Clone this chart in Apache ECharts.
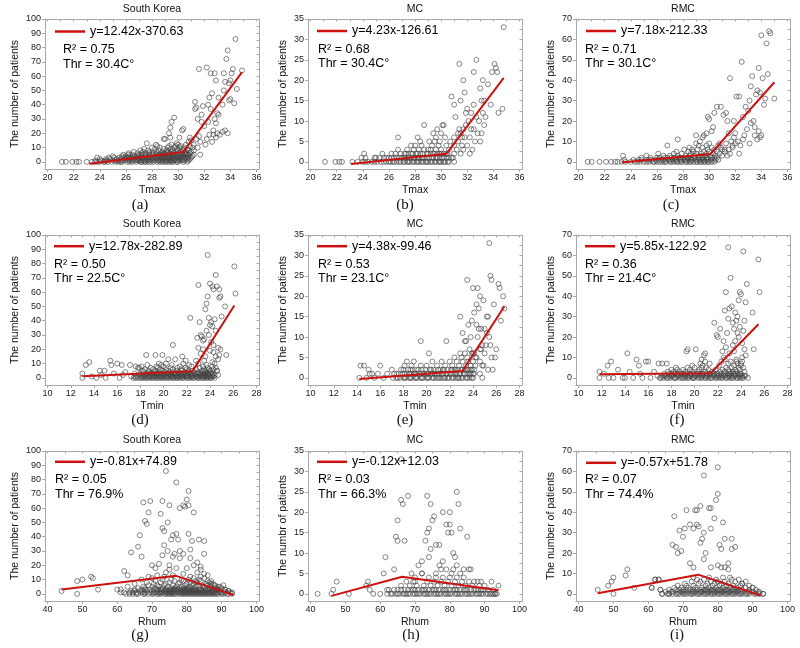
<!DOCTYPE html>
<html><head><meta charset="utf-8">
<script src="https://cdn.jsdelivr.net/npm/echarts@6/dist/echarts.min.js"></script>
<style>html,body{margin:0;padding:0;background:#fff}#c{width:800px;height:648px}</style>
</head><body><div id="c"></div>
<script>
// ---------- labels / text ----------
const panelTitles = ['South Korea','MC','RMC','South Korea','MC','RMC','South Korea','MC','RMC'];
const panelLetters = ['(a)','(b)','(c)','(d)','(e)','(f)','(g)','(h)','(i)'];
const xNames = ['Tmax','Tmax','Tmax','Tmin','Tmin','Tmin','Rhum','Rhum','Rhum'];
const yNames = ['The number of patients','The number of patients','The number of patients',
  'The number of patients','The number of patients','The number of patients',
  'The number of patients','The numbr of patients','The number of patients'];
const equations = ['y=12.42x-370.63','y=4.23x-126.61','y=7.18x-212.33',
  'y=12.78x-282.89','y=4.38x-99.46','y=5.85x-122.92',
  'y=-0.81x+74.89','y=-0.12x+12.03','y=-0.57x+51.78'];
const r2Values = ['0.75','0.68','0.71','0.50','0.53','0.36','0.05','0.03','0.07'];
const thrValues = ['30.4C°','30.4C°','30.1C°','22.5C°','23.1C°','21.4C°','76.9%','66.3%','74.4%'];

// ---------- tick labels ----------
const tmaxTicks = [20,22,24,26,28,30,32,34,36];
const tminTicks = [10,12,14,16,18,20,22,24,26,28];
const rhumTicks = [40,50,60,70,80,90,100];
const skTicks = [0,10,20,30,40,50,60,70,80,90,100];
const mcTicks = [0,5,10,15,20,25,30,35];
const rmcTicks = [0,10,20,30,40,50,60,70];
const tmaxMinor = [20,21,22,23,24,25,26,27,28,29,30,31,32,33,34,35,36];
const tminMinor = [10,11,12,13,14,15,16,17,18,19,20,21,22,23,24,25,26,27,28];
const rhumMinor = [40,45,50,55,60,65,70,75,80,85,90,95,100];
const skMinor = [0,5,10,15,20,25,30,35,40,45,50,55,60,65,70,75,80,85,90,95,100];
const mcMinor = [0,2.5,5,7.5,10,12.5,15,17.5,20,22.5,25,27.5,30,32.5,35];
const rmcMinor = [0,5,10,15,20,25,30,35,40,45,50,55,60,65,70];

// ---------- piecewise fit lines ----------
const fitA = [[23.2,-1.4],[30.4,6.94],[34.9,62.8]];
const fitB = [[23.1,-0.5],[30.4,1.98],[34.8,20.6]];
const fitC = [[23.3,-0.3],[30.1,3.8],[35.0,39.0]];
const fitD = [[13.0,1.2],[22.5,4.7],[26.1,50.7]];
const fitE = [[14.2,-0.3],[23.1,1.7],[26.7,17.5]];
const fitF = [[11.8,1.8],[21.4,2.3],[25.5,26.3]];
const fitG = [[44.0,3.0],[76.9,12.6],[93.5,-0.8]];
const fitH = [[46.0,-0.5],[66.3,4.2],[94.0,0.9]];
const fitI = [[45.5,0.3],[74.4,9.4],[92.3,-0.8]];

function row(y, xs){ return xs.map(x => [x, y]); }

// ---------- scatter data ----------
const ptsA = [
 [21.1,0],[21.4,0],[21.9,0],[22.2,0],[22.4,0],[23.0,0],[23.4,0],
 ...row(0,[23.6,23.8,24.3,24.4,24.9,25.2,25.6,25.7,26.1,26.5,26.8,27.1,27.4,27.5,27.9,28.1,28.4,28.8,29.1,29.3,29.6,30.0,30.7]),
 ...row(1,[23.7,24.1,24.6,25.0,25.4,25.8,26.0,26.3,26.7,26.9,27.2,27.6,27.8,28.2,28.5,28.6,29.0,29.2,29.5,29.9,30.3,30.8]),
 ...row(2,[24.0,24.5,25.3,25.9,26.2,26.4,26.8,27.0,27.3,27.7,28.0,28.3,28.6,28.9,29.2,29.4,29.7,30.1,30.5,30.9]),
 ...row(3,[23.8,24.7,25.5,26.1,26.6,26.9,27.4,27.6,28.1,28.4,28.7,29.0,29.3,29.6,29.9,30.2,30.6,31.0]),
 ...row(4,[25.0,25.7,26.3,26.8,27.2,27.5,27.9,28.2,28.5,28.8,29.1,29.5,29.8,30.0,30.4,30.7,31.1]),
 ...row(5,[25.8,26.5,27.0,27.3,27.8,28.0,28.6,28.9,29.3,29.6,29.9,30.3,30.6,31.2]),
 ...row(6,[26.2,26.9,27.5,28.1,28.4,28.7,29.0,29.4,29.7,30.1,30.5,30.9]),
 ...row(7,[26.6,27.3,27.8,28.3,28.8,29.2,29.5,29.8,30.2,30.6,31.0]),
 ...row(8,[27.1,27.7,28.5,29.1,29.6,30.0,30.4,30.8]),
 ...row(9,[27.4,28.2,28.9,29.4,29.9,30.3,30.7]),
 ...row(10,[28.0,28.6,29.2,29.7,30.1,30.5,31.1]),
 ...row(11,[28.4,29.3,29.8,30.2,30.9]),
 ...row(12,[28.3,29.5,30.0,30.6]),
 [27.6,13],[28.9,16],[29.0,16],[29.3,20],[29.4,24],[29.5,28],[29.7,31],[29.4,17],[30.3,22],[30.4,23],
 [30.1,17],[29.9,13],[30.8,14],[30.6,5],[31.0,15],[31.2,12],[31.3,42],[31.4,38],[31.3,37],[31.5,30],
 [31.6,18],[31.7,5],[31.6,65],[31.8,28],[31.9,39],[31.8,33],[31.5,10],[31.4,16],[31.7,14],[31.2,8],
 [30.9,17],[32.2,66],[32.5,62],[32.6,48],[32.8,62],[32.9,57],[32.4,45],[32.3,40],[32.5,37],[32.8,30],
 [33.0,20],[32.3,28],[32.0,25],[32.7,19],[32.9,17],[32.2,16],[32.1,12],[32.6,14],[33.0,34],[33.1,33],
 [32.7,22],[32.9,27],[33.1,45],[32.4,19],[33.5,62],[33.6,56],[33.8,78],[33.7,72],[33.5,50],[33.9,55],
 [34.2,65],[34.1,62],[34.0,57],[34.4,86],[34.5,51],[34.9,64],[34.3,41],[33.9,43],[33.6,22],[33.8,20],
 [33.4,21],[33.2,19],[34.0,44],[33.4,40]
];
const bandA2 = [
 ...row(0,[24.0,24.6,25.4,26.3,27.2,27.7,28.6,29.0,29.5,29.9,30.4]),
 ...row(1,[24.4,25.2,25.6,26.5,27.0,27.4,28.0,28.8,29.4,29.7,30.1,30.5]),
 ...row(2,[24.8,25.6,26.0,26.6,27.2,27.5,27.9,28.4,28.8,29.1,29.6,30.0,30.3,30.7]),
 ...row(3,[25.1,25.8,26.4,27.1,27.8,28.3,28.9,29.5,30.0,30.4,30.8]),
 ...row(4,[26.0,26.6,27.0,27.7,28.4,29.0,29.3,29.7,30.2]),
 ...row(5,[26.2,27.5,28.3,28.8,29.5,30.1,30.8]),
 ...row(6,[27.2,27.8,28.9,29.2,30.3,30.7])
];
const ptsB = [
 [21.1,0],[21.9,0],[22.2,0],[22.4,0],[23.2,0],
 ...row(0,[23.6,24.0,24.4,24.7,25.1,25.4,25.8,26.1,26.3,26.6,26.9,27.1,27.4,27.6,27.9,28.1,28.3,28.6,28.8,29.0,29.3,29.5,29.8,30.0,30.3,30.6,31.0]),
 ...row(1,[23.9,24.2,24.9,25.3,25.6,26.0,26.4,26.8,27.0,27.3,27.7,28.0,28.2,28.5,28.7,29.1,29.4,29.7,30.1,30.4,30.8]),
 ...row(2,[24.1,26.2,26.5,27.2,27.5,27.8,28.1,28.4,28.9,29.2,29.5,29.9,30.2,30.5,31.0]),
 ...row(3,[26.7,27.4,27.9,28.3,28.7,29.0,29.2,29.6,30.0,30.6,31.2]),
 ...row(4,[27.7,28.0,28.5,29.3,29.8,30.4,31.0,31.6]),
 ...row(5,[28.4,29.1,29.5,29.9,30.7,31.3]),
 ...row(6,[26.7,28.2,29.6,30.3,31.0,31.8]),
 ...row(7,[29.4,30.0,31.3,31.5]),
 ...row(8,[29.7,31.4,31.7]),
 ...row(9,[28.7,30.1,30.2,31.9]),
 [30.8,16],[31.0,14],[31.1,11],[31.4,24],[31.5,15],[31.7,20],[31.8,17],[31.9,12],[30.9,1],[31.5,2],
 [31.7,3],[32.0,13],[32.1,10],[32.3,12],[32.5,22],[32.7,25],[32.5,8],[32.8,7],[32.4,3],[33.0,18],
 [33.1,15],[33.2,20],[33.3,15],[33.2,12],[33.4,11],[33.6,19],[33.8,14],[33.9,22],[34.1,24],[34.2,23],
 [34.3,22],[34.4,12],[34.7,13],[34.8,33],[33.1,7],[32.9,10],[32.6,5],[33.3,9],[32.2,6],[32.0,4],
 [32.3,8],[32.7,11],[33.0,5],[31.6,6],[32.2,2],[32.5,14]
];
const bandB2 = [
 ...row(0,[24.2,24.9,25.6,26.0,26.4,26.8,27.2,27.5,27.8,28.2,28.5,28.9,29.2,29.6,29.9,30.2,30.5]),
 ...row(1,[25.0,25.8,26.2,26.6,27.2,27.5,27.9,28.3,28.6,28.9,29.3,29.6,29.9,30.2,30.6]),
 ...row(2,[25.5,26.9,27.3,27.7,28.2,28.6,29.0,29.4,29.7,30.0,30.4])
];
const ptsC = [
 [20.7,0],[21.0,0],[21.6,0],[22.1,0],[22.5,0],[22.8,0],[23.0,0],[23.3,0],
 ...row(0,[23.6,24.0,24.3,24.7,25.0,25.4,25.7,26.0,26.4,26.7,27.0,27.3,27.6,27.9,28.2,28.5,28.8,29.1,29.4,29.7,30.0,30.4]),
 ...row(1,[23.5,24.2,24.6,25.2,25.6,25.9,26.3,26.6,26.9,27.2,27.5,27.8,28.1,28.4,28.7,29.0,29.3,29.6,29.9,30.3,30.7]),
 ...row(2,[24.8,25.5,26.2,26.8,27.1,27.4,27.7,28.0,28.3,28.6,28.9,29.2,29.5,29.8,30.2,30.6]),
 ...row(3,[23.4,25.2,26.5,27.0,27.6,28.2,28.5,28.9,29.3,29.7,30.1,30.5,31.0]),
 ...row(4,[26.1,27.3,27.9,28.6,29.0,29.4,29.8,30.3,30.8]),
 ...row(5,[27.5,28.4,28.8,29.6,30.0,30.6,31.2]),
 ...row(6,[28.1,28.7,29.1,29.9,30.4,31.0,31.5]),
 ...row(7,[28.5,29.5,30.2,30.9]),
 ...row(8,[26.8,29.2,29.8,30.7,31.8]),
 ...row(9,[29.0,30.0,31.3]),
 [27.6,11],[29.0,13],[29.3,10],[29.5,12],[29.6,13],[29.9,22],[30.0,21],[30.4,24],[30.2,15],[29.8,14],
 [30.3,17],[30.6,27],[30.9,27],[31.1,23],[31.3,24],[31.4,20],[31.6,41],[31.5,14],[31.7,10],[31.9,12],
 [32.0,14],[32.1,32],[32.3,32],[31.2,6],[30.8,9],[31.6,4],[31.9,20],[32.5,49],[32.6,22],[32.8,27],
 [33.0,25],[33.2,37],[33.3,42],[33.1,30],[33.4,20],[33.6,33],[33.7,35],[33.8,46],[33.9,34],[34.1,41],
 [34.2,28],[34.3,31],[34.0,62],[34.4,58],[34.6,64],[34.7,63],[34.5,43],[35.0,31],[33.5,13],[33.7,11],
 [33.9,12],[33.5,17],[32.9,16],[32.7,13],[33.2,19],[32.2,10],[32.4,8],[31.8,7],[32.0,9],[32.6,11],
 [33.1,9],[34.0,13],[33.8,15],[31.4,3],[32.3,4]
];
const bandC2 = [
 ...row(0,[24.5,25.2,25.8,26.2,26.6,27.1,27.5,27.8,28.3,28.6,29.0,29.3,29.6,29.9,30.2]),
 ...row(1,[24.8,25.4,26.1,26.5,27.0,27.4,27.9,28.2,28.6,29.2,29.5,29.8,30.1,30.5]),
 ...row(2,[26.0,26.6,27.3,27.8,28.4,28.8,29.4,29.9,30.4])
];
const ptsD = [
 [13.0,0],[13.0,3],[13.3,9],[13.6,11],[14.2,0],[14.5,5],[14.9,5],[15.4,12],[15.5,9],[16.0,10],
 [16.4,9],[16.7,4],[17.1,9],[17.6,8],[17.9,7],[16.2,0],[15.0,0],[13.8,1],[14.6,2],[15.7,3],[16.5,2],[17.2,1],[17.5,3],
 ...row(0,[17.4,17.8,18.0,18.3,18.6,18.8,19.1,19.3,19.6,19.8,20.1,20.3,20.6,20.9,21.1,21.4,21.7,22.0,22.3,22.6,22.9,23.2,23.5,23.8,24.1]),
 ...row(1,[17.7,18.1,18.4,18.7,19.0,19.2,19.5,19.7,20.0,20.2,20.5,20.8,21.0,21.3,21.6,21.9,22.2,22.5,22.8,23.1,23.4,23.7,24.0,24.3]),
 ...row(2,[17.9,18.2,18.5,18.9,19.4,19.9,20.4,20.7,21.2,21.5,21.8,22.1,22.4,22.7,23.0,23.3,23.6,23.9,24.4]),
 ...row(3,[18.0,18.6,19.0,19.5,19.8,20.3,20.6,21.0,21.4,21.7,22.0,22.3,22.9,23.2,23.5,23.8,24.2]),
 ...row(4,[18.3,18.8,19.2,19.6,20.1,20.5,20.9,21.3,21.8,22.2,22.6,23.0,23.4,23.7,24.1]),
 ...row(5,[18.2,18.7,19.3,19.9,20.4,21.1,21.6,22.1,22.5,23.3,23.6,24.0,24.6]),
 ...row(6,[18.4,19.1,19.7,20.2,20.8,21.5,22.0,22.8,23.5,23.9,24.3]),
 ...row(7,[17.8,18.9,19.5,20.6,21.2,21.9,23.1,23.8,24.5]),
 ...row(8,[18.1,19.4,20.0,21.4,22.4,23.4,24.2]),
 ...row(9,[18.6,19.8,20.7,22.2,23.7]),
 ...row(10,[19.6,20.2,21.7,23.0,24.4]),
 [18.5,16],[19.3,16],[19.9,16],[20.8,23],[20.4,13],[21.0,13],[21.6,15],[21.9,12],[22.3,42],[23.0,65],
 [23.1,39],[23.2,30],[23.3,29],[23.5,27],[23.4,20],[23.6,48],[23.7,52],[23.8,57],[23.8,86],[24.0,66],
 [24.2,64],[24.3,62],[24.5,72],[24.6,64],[24.4,41],[24.2,36],[24.0,37],[23.9,42],[24.8,56],[24.8,62],
 [24.9,57],[25.0,43],[25.3,50],[25.4,16],[24.7,21],[24.9,20],[24.7,13],[24.6,5],[24.7,2],[26.1,78],
 [26.2,59],[24.1,25],[23.9,30],[24.5,15],[24.3,18],[23.5,12],[23.2,17],[22.8,12],[23.0,21],[23.6,15],
 [24.0,19],[24.2,11],[24.8,16],[22.9,28],[23.4,26],[23.7,33],[24.1,39],[24.5,33],[24.3,23]
];
const bandD2 = [
 ...row(0,[17.6,18.1,18.5,19.0,19.5,19.9,20.4,20.8,21.2,21.6,22.1,22.5,23.0,23.4,23.7,24.0,24.4]),
 ...row(1,[17.5,18.3,18.8,19.3,19.8,20.3,20.7,21.2,21.5,22.0,22.4,22.9,23.3,23.6,23.9,24.2]),
 ...row(2,[18.4,19.1,19.6,20.1,20.6,21.0,21.6,22.0,22.5,23.1,23.5,23.8,24.2]),
 ...row(3,[18.9,19.4,20.0,20.4,20.9,21.5,22.4,23.0,23.6,24.0])
];
const ptsE = [
 [14.2,0],[14.3,3],[14.6,3],[15.0,2],[15.1,1],[15.3,1],[16.0,3],[15.8,1],[16.3,0],[14.8,0],[15.5,0],[16.6,1],[17.0,2],
 ...row(0,[17.1,17.4,17.7,18.0,18.2,18.5,18.7,19.0,19.2,19.5,19.7,20.0,20.2,20.5,20.8,21.0,21.3,21.6,21.9,22.2,22.5,22.8,23.1,23.4,23.7,24.0]),
 ...row(1,[17.2,17.6,17.9,18.3,18.6,18.9,19.1,19.4,19.8,20.1,20.4,20.7,21.1,21.4,21.7,22.0,22.3,22.6,22.9,23.2,23.5,23.8,24.1]),
 ...row(2,[17.8,18.4,18.8,19.3,19.6,20.3,20.6,21.2,21.5,21.8,22.1,22.4,22.7,23.0,23.3,23.6,23.9]),
 ...row(3,[18.1,18.7,19.5,20.0,20.9,21.6,22.2,22.8,23.4,23.8,24.2]),
 ...row(4,[18.3,18.9,20.5,21.3,22.0,22.6,23.1,23.6,24.0]),
 ...row(5,[22.4,23.0,23.5,24.3]),
 ...row(6,[20.2,22.9,23.3,23.9,24.1]),
 ...row(7,[23.7,24.6]),
 [19.5,9],[21.7,9],[22.9,15],[23.1,11],[23.3,9],[23.4,9],[23.5,24],[23.6,13],[23.9,14],[24.0,22],
 [24.1,16],[24.3,18],[24.4,22],[24.5,17],[24.6,20],[24.7,12],[24.9,19],[25.0,12],[25.2,15],[25.3,15],
 [25.4,33],[25.5,25],[25.6,24],[25.8,18],[26.0,7],[25.9,5],[26.2,23],[26.3,22],[26.4,14],[26.6,20],
 [26.7,17],[25.7,2],[25.3,2],[24.8,3],[24.6,1],[24.8,0],[25.1,8],[25.5,8],[25.6,5],[24.2,5],
 [24.0,6],[24.4,10],[24.8,8],[24.5,12],[25.0,6],[24.7,7],[25.2,11],[24.3,13],[24.9,3],[25.4,10],
 [24.1,2],[24.6,4],[23.8,10]
];
const bandE2 = [
 ...row(0,[17.5,18.1,18.6,19.1,19.6,20.1,20.6,21.1,21.5,21.8,22.3,22.7,23.0,23.5,23.9]),
 ...row(1,[17.4,18.1,18.5,19.0,19.6,20.0,20.5,20.9,21.3,21.8,22.1,22.5,22.8,23.3,23.7,24.0]),
 ...row(2,[18.0,18.6,19.1,19.9,20.4,21.0,21.4,22.2,22.5,23.1,23.5,23.8])
];
const ptsF = [
 [11.8,0],[11.8,3],[12.2,2],[12.5,6],[12.8,8],[12.6,0],[13.4,4],[14.2,12],[14.0,0],[14.4,3],
 [15.0,9],[15.2,6],[15.8,8],[16.0,8],[16.5,3],[16.9,7],[17.2,7],[17.6,7],[14.7,0],[15.5,0],
 [13.0,0],[13.8,0],[16.2,0],[15.3,2],[16.8,1],
 ...row(0,[17.0,17.3,17.6,17.9,18.2,18.4,18.7,19.0,19.2,19.5,19.8,20.0,20.3,20.6,20.9,21.2,21.5,21.8,22.1,22.4,22.7,23.0,23.3,23.6,23.9,24.2]),
 ...row(1,[17.2,17.5,17.8,18.1,18.5,18.8,19.1,19.4,19.7,20.1,20.4,20.7,21.0,21.3,21.6,21.9,22.3,22.6,22.9,23.2,23.5,23.8,24.1,24.4]),
 ...row(2,[17.4,18.0,18.3,18.6,18.9,19.3,19.6,19.9,20.2,20.5,20.8,21.1,21.4,21.7,22.0,22.5,22.8,23.1,23.4,23.7,24.0]),
 ...row(3,[17.7,18.2,18.7,19.2,19.8,20.3,20.9,21.5,22.2,22.6,23.0,23.3,23.6,24.3]),
 ...row(4,[18.0,18.5,19.0,19.6,20.4,21.2,21.8,22.4,22.9,23.5,23.9]),
 ...row(5,[18.4,19.4,20.0,20.6,21.0,22.7,23.2,23.8,24.2]),
 ...row(6,[19.8,20.7,22.1,23.4,24.0]),
 ...row(7,[20.5,21.3,22.9,23.7]),
 ...row(8,[20.9,22.3,23.1,24.1]),
 ...row(9,[20.6,22.6,23.6]),
 [19.3,13],[19.4,14],[20.1,14],[20.8,11],[20.9,12],[21.7,27],[21.9,21],[22.0,20],[22.2,24],[22.4,13],
 [22.6,33],[22.7,42],[22.9,64],[23.1,49],[23.0,34],[23.2,35],[23.3,27],[23.4,24],[23.5,32],[23.6,28],
 [23.7,22],[23.8,38],[23.9,42],[24.0,41],[24.2,62],[24.3,28],[24.5,46],[24.4,37],[25.1,14],[25.5,58],
 [25.6,42],[24.1,17],[23.8,20],[23.5,18],[22.8,22],[24.3,14],[22.5,10],[23.0,12],[24.1,10],[23.6,8],
 [24.6,0],[25.0,32],[23.3,16],[22.7,15],[23.9,25],[24.2,23],[22.9,29],[23.4,13],[24.4,11],[23.7,30],
 [22.5,18],[24.0,7]
];
const bandF2 = [
 ...row(0,[17.1,17.7,18.3,18.9,19.4,19.9,20.5,21.0,21.4,21.9,22.3,22.8,23.2,23.7,24.1]),
 ...row(1,[17.4,18.0,18.6,19.2,19.6,20.0,20.6,21.1,21.7,22.1,22.5,23.0,23.4,23.9,24.3]),
 ...row(2,[17.8,18.5,19.1,19.7,20.3,20.7,21.3,21.9,22.3,23.0,23.5,23.9])
];
const ptsG = [
 ...row(0,[62.5,64.5,66.0,67.5,69.0,70.5,71.5,72.5,73.5,74.5,75.5,76.5,77.0,78.0,79.0,80.0,81.0,82.0,83.0,84.0,85.0,86.0,87.0,88.0,89.0,90.0,91.5,93.0]),
 ...row(1,[61.0,63.5,65.5,68.0,69.5,71.0,72.0,73.0,74.0,75.0,76.0,77.5,78.5,79.5,80.5,81.5,82.5,83.5,84.5,85.5,86.5,87.5,88.5,89.5,91.0,92.5]),
 ...row(2,[64.0,66.5,68.5,70.0,71.5,73.5,74.5,75.5,76.5,77.0,78.0,79.0,80.0,81.0,82.0,83.0,84.0,85.0,86.0,87.0,88.0,90.5,92.0]),
 ...row(3,[60.0,65.0,67.0,69.5,70.5,72.5,74.0,75.0,76.0,77.5,78.5,79.5,80.5,81.5,82.5,83.5,85.5,87.5,89.0,91.0]),
 ...row(4,[66.0,68.0,71.0,73.0,75.5,76.5,78.0,79.0,80.0,81.0,82.0,84.0,86.5,88.5,90.0]),
 ...row(5,[67.5,70.0,72.0,74.5,77.0,78.5,80.5,82.5,83.5,85.0,87.0,89.5]),
 ...row(6,[69.0,71.5,73.5,76.0,79.5,81.5,84.5,86.0,88.0,90.5]),
 ...row(7,[70.5,74.0,77.5,80.0,82.0,85.5,87.5]),
 ...row(8,[68.5,72.5,75.0,78.0,81.0,83.0,86.5]),
 ...row(9,[71.0,76.5,79.0,82.5,84.0]),
 ...row(10,[73.0,75.5,78.5,80.5,83.5]),
 [44,2],[48.5,0],[48.5,9],[50,10],[52.5,12],[53,11],[54.5,3],[61,3],[62,16],[63,13],
 [64,29],[66,33],[66.5,41],[67,26],[67.5,64],[68,51],[68.5,49],[69,57],[69.5,65],[70,20],
 [72.5,56],[73,65],[73,46],[73.5,44],[74,86],[74.5,50],[73.5,34],[74.5,30],[75,62],[75.5,38],
 [76,41],[76.5,28],[77,78],[77,42],[77.5,38],[78,60],[78,30],[79,62],[79.5,61],[80,66],
 [80.5,72],[80.5,62],[80.5,42],[81,31],[81.5,37],[82,57],[83,22],[83.5,38],[85,37],[85,28],
 [84,19],[79,28],[78,25],[76,26],[72,21],[71,18],[73,27],[75,20],[81,25],[82,20],
 [83,15],[84,17],[85,14],[86,13],[74,15],[76,13],[77,18],[79,14],[80,18],[81,12],
 [82,11],[84,12],[85,11],[86,9],[87,7],[88,6],[89,5],[91,3],[92,2],[93,1],
 [87,9],[89,3],[73.5,12],[75,17],[71.5,13],[70,11],[69,12],[67,10],[65,7],[63,5]
];
const bandG2 = [
 ...row(0,[63.5,65.5,68.0,70.0,72.0,74.0,75.0,76.0,78.5,79.5,80.5,81.5,82.5,83.5,84.5,85.5,86.5,87.5,88.5,90.5,92.0]),
 ...row(1,[62.0,64.5,67.0,70.5,72.5,74.5,75.5,76.5,78.0,79.0,80.0,81.0,82.0,83.0,84.0,85.0,86.0,87.0,88.0,90.0]),
 ...row(2,[65.0,67.5,72.5,74.0,75.0,76.0,78.5,79.5,80.5,81.5,82.5,84.5,85.5,87.5,89.0]),
 ...row(3,[68.0,71.5,73.0,76.5,77.0,79.0,80.0,82.0,84.0,86.0,88.0])
];
const ptsH = [
 ...row(0,[62.0,63.5,64.5,65.5,66.5,67.5,68.5,69.5,70.5,71.5,72.5,73.5,74.5,75.5,76.5,77.5,78.5,79.5,80.5,81.5,82.5,83.5,84.5,85.5,86.5,87.5,88.5,89.5,90.5,91.5,92.5,93.5]),
 ...row(1,[62.5,64.0,65.0,67.0,68.0,69.0,70.0,71.0,72.0,73.0,74.0,75.0,76.0,77.0,78.0,79.0,80.0,81.0,82.0,83.0,84.0,85.0,86.0,87.0,88.0,89.0,90.0,91.0]),
 ...row(2,[66.0,68.5,70.5,72.5,74.5,76.5,78.5,80.5,82.5,84.5,86.5,88.5]),
 ...row(3,[67.5,69.5,73.5,75.5,77.5,79.5,81.5,83.5,85.5]),
 ...row(4,[70.0,74.0,78.0,80.0,82.0,84.0]),
 ...row(5,[72.0,76.0,80.5,83.0]),
 ...row(6,[77.5,81.0,85.5]),
 [42,0],[46,0],[46.5,1],[47.5,3],[51,0],[56,2],[56.5,3],[57,1],[58,0],[60,0],
 [61,5],[61.5,9],[62,1],[64,6],[64.5,14],[65,13],[65,18],[66,33],[66,23],[66.5,22],
 [67,13],[68,24],[69,5],[70,3],[71,7],[72,5],[73,13],[73.5,15],[73.5,24],[74,16],
 [74.5,22],[75,18],[75.5,19],[74,9],[74.5,11],[76,12],[77,12],[78,20],[78,8],[79,17],
 [79.5,15],[80,20],[80,17],[80.5,15],[81,10],[81.5,9],[82,25],[82.5,22],[83,16],[84,6],
 [85,14],[86,6],[87,3],[88,3],[89,3],[90,2],[92,3],[94,2],[93,0],[82,7],
 [79,6],[77,7],[76,4],[72,8]
];
const bandH2 = [
 ...row(0,[63.0,65.0,67.0,68.0,70.0,71.0,73.0,74.0,76.0,77.0,79.0,80.0,82.0,83.0,85.0,86.0,88.0,89.0,91.0,92.0,93.0]),
 ...row(1,[66.0,69.5,72.5,75.5,78.5,81.5,84.5,87.5,89.5,92.5])
];
const ptsI = [
 ...row(0,[64.0,65.5,67.0,68.0,69.0,70.0,71.0,72.0,73.0,74.0,75.0,76.0,77.0,78.0,79.0,80.0,81.0,82.0,83.0,84.0,85.0,86.0,87.0,88.0,89.0,90.5,92.0,93.0]),
 ...row(1,[65.0,66.5,68.5,69.5,70.5,71.5,72.5,73.5,74.5,75.5,76.5,77.5,78.5,79.5,80.5,81.5,82.5,83.5,84.5,85.5,86.5,88.5,90.0,91.5]),
 ...row(2,[63.5,66.0,68.0,70.0,72.0,74.0,75.0,76.0,77.0,78.0,79.0,80.0,81.0,82.0,83.0,84.0,85.0,87.0,89.0]),
 ...row(3,[61.0,67.5,69.5,71.5,73.5,75.5,77.5,79.5,81.5,83.5,85.5,88.0,90.0]),
 ...row(4,[68.5,71.0,73.0,76.5,78.5,80.5,82.5,84.5,86.5]),
 ...row(5,[70.5,74.5,77.0,79.0,81.0,83.0,87.0]),
 ...row(6,[72.5,75.0,78.0,80.0,82.0,85.0]),
 ...row(7,[62.0,63.0,74.0,76.0,79.5,84.0]),
 ...row(8,[73.0,77.5,81.5,83.5]),
 [45.5,2],[48.5,4],[49.5,6],[50,8],[50,0],[53.5,9],[54,12],[56,3],[61,3],[62,7],
 [63,7],[63.5,2],[64,0],[66,0],[67,24],[67.5,38],[68,23],[68.5,20],[69,31],[69.5,21],
 [70,28],[70.5,32],[71,41],[72,34],[73,32],[73.5,41],[74,41],[74,34],[74.5,33],[75,25],
 [75,43],[75.5,27],[76,30],[76,58],[76.5,20],[77.5,42],[78,32],[78,42],[79,37],[79.5,46],
 [80,49],[80,62],[80.5,24],[81,22],[81.5,35],[82,27],[83,15],[84,22],[84,27],[85,23],
 [82,13],[83,12],[72,15],[73,13],[76,17],[78,13],[80,14],[81,13],[86,7],[87,5],
 [88,6],[89,4],[90,3],[91,2],[92,1],[93,0]
];
const bandI2 = [
 ...row(0,[66.0,68.5,70.5,72.5,74.5,76.5,78.5,80.5,82.5,84.5,86.5,88.5,91.0]),
 ...row(1,[67.0,70.0,73.0,75.0,77.0,79.0,81.0,83.0,85.0,87.0,89.0]),
 ...row(2,[69.0,71.0,73.0,76.5,78.5,80.5,82.5,84.5,86.0])
];

const allPts = [ptsA.concat(bandA2),ptsB.concat(bandB2),ptsC.concat(bandC2),
  ptsD.concat(bandD2),ptsE.concat(bandE2),ptsF.concat(bandF2),
  ptsG.concat(bandG2),ptsH.concat(bandH2),ptsI.concat(bandI2)];
const allFits = [fitA,fitB,fitC,fitD,fitE,fitF,fitG,fitH,fitI];

// ---------- layout (positions / styles) ----------
const FONT = 'Liberation Sans';
const gridLeft = [45,308,576], gridTop = [19,235,451], gridW = 214, gridH = 150;
const xCfg = {
  Tmax:{min:19.8,max:36.2,ticks:tmaxTicks,minor:tmaxMinor},
  Tmin:{min:9.775,max:28.225,ticks:tminTicks,minor:tminMinor},
  Rhum:{min:39.25,max:100.75,ticks:rhumTicks,minor:rhumMinor}
};
const yCfgs = [
  {min:-5,max:100,ticks:skTicks,minor:skMinor},
  {min:-1.75,max:35,ticks:mcTicks,minor:mcMinor},
  {min:-3.5,max:70,ticks:rmcTicks,minor:rmcMinor}
];
const yNameGap = [24,19,19];
const letterX = [140,405,671,140,405,677,140,411,677];
const letterY = [206,206,206,421,421,421,636,636,636];
const titleY = [10,10,10,225.5,225.5,225.5,441,441,441];
const legLeft = [55,317,586,54,317,585,55,317,586];
const legCy = [33,32.5,32.5,247.7,247.7,247.7,463.3,463.3,464.3];
const txtLeft = [63,318,585,54,318,585,55,318,585];
const txtCy = [50,49.3,49.3,264.3,264.3,264.3,480,480,480];

const axisColor = '#a9a9a9';
const grid = [], xAxis = [], yAxis = [], series = [], legend = [], title = [];
for (let i = 0; i < 9; i++) {
  const r = Math.floor(i/3), c = i % 3;
  grid.push({left:gridLeft[c], top:gridTop[r], width:gridW, height:gridH});
  const xc = xCfg[xNames[i]], yc = yCfgs[c];
  xAxis.push({
    gridIndex:i, type:'value', position:'bottom', min:xc.min, max:xc.max,
    axisLine:{onZero:false, lineStyle:{color:axisColor, width:1}},
    axisTick:{show:true, inside:false, length:3, customValues:xc.ticks, lineStyle:{color:axisColor}},
    axisLabel:{customValues:xc.ticks, fontSize:9, color:'#222', fontFamily:FONT, margin:4},
    splitLine:{show:false},
    name:xNames[i], nameLocation:'middle', nameGap:15.5,
    nameTextStyle:{fontSize:10.5, color:'#111', fontFamily:FONT}
  });
  xAxis.push({
    gridIndex:i, type:'value', position:'top', min:xc.min, max:xc.max,
    axisLine:{onZero:false, lineStyle:{color:axisColor, width:1}},
    axisTick:{show:true, inside:true, length:2.5, customValues:xc.minor, lineStyle:{color:axisColor}},
    axisLabel:{show:false}, splitLine:{show:false}
  });
  yAxis.push({
    gridIndex:i, type:'value', position:'left', min:yc.min, max:yc.max,
    axisLine:{show:true, onZero:false, lineStyle:{color:axisColor, width:1}},
    axisTick:{show:true, inside:false, length:3, customValues:yc.ticks, lineStyle:{color:axisColor}},
    axisLabel:{customValues:yc.ticks, fontSize:9, color:'#222', fontFamily:FONT, margin:4},
    splitLine:{show:false},
    name:yNames[i], nameLocation:'middle', nameGap:yNameGap[c], nameRotate:90,
    nameTextStyle:{fontSize:10.5, color:'#111', fontFamily:FONT}
  });
  yAxis.push({
    gridIndex:i, type:'value', position:'right', min:yc.min, max:yc.max,
    axisLine:{show:true, onZero:false, lineStyle:{color:axisColor, width:1}},
    axisTick:{show:true, inside:true, length:2.5, customValues:yc.minor, lineStyle:{color:axisColor}},
    axisLabel:{show:false}, splitLine:{show:false}
  });
  series.push({
    type:'scatter', xAxisIndex:2*i, yAxisIndex:2*i, data:allPts[i],
    symbol:'circle', symbolSize:5, silent:true,
    itemStyle:{color:'rgba(0,0,0,0)', borderColor:'#444', borderWidth:0.8}
  });
  series.push({
    type:'line', name:equations[i], xAxisIndex:2*i, yAxisIndex:2*i, data:allFits[i],
    showSymbol:false, symbol:'none', silent:true, z:5,
    lineStyle:{color:'#cc1111', width:2}, itemStyle:{color:'#cc1111'}
  });
  legend.push({
    data:[equations[i]], left:legLeft[i], top:legCy[i]-8, padding:0,
    icon:'rect', itemWidth:30, itemHeight:2.5, selectedMode:false,
    textStyle:{fontSize:12.5, color:'#000', fontFamily:FONT}
  });
  title.push({
    text:panelTitles[i], left:gridLeft[c]+gridW/2, top:titleY[i]-6.5, textAlign:'center', padding:0,
    textStyle:{fontSize:10.5, fontWeight:'normal', color:'#111', fontFamily:FONT}
  });
  title.push({
    text:panelLetters[i], left:letterX[i], top:letterY[i]-8.5, textAlign:'center', padding:0,
    textStyle:{fontSize:15, fontWeight:'normal', color:'#111', fontFamily:'Liberation Serif'}
  });
  title.push({
    text:'R² = ' + r2Values[i] + '\nThr = ' + thrValues[i], left:txtLeft[i], top:txtCy[i]-7.5, padding:0,
    textStyle:{fontSize:12.5, fontWeight:'normal', color:'#000', fontFamily:FONT, lineHeight:14.5}
  });
}

const chart = echarts.init(document.getElementById('c'), null, {renderer:'canvas'});
chart.setOption({
  backgroundColor:'#fff', animation:false,
  grid, xAxis, yAxis, series, legend, title
});
</script>
</body></html>
